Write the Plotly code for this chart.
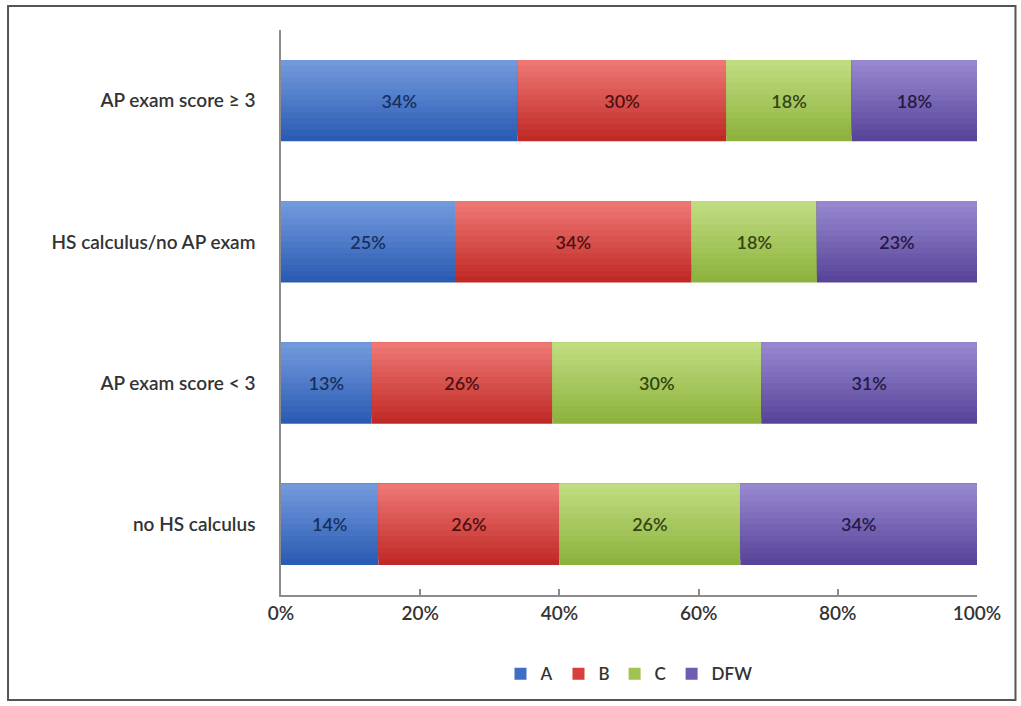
import numpy as np
import plotly.graph_objects as go

# Categories listed bottom-to-top as they appear on the axis
groups = ["no HS calculus", "AP exam score < 3", "HS calculus/no AP exam", "AP exam score \u2265 3"]
grades = ["A", "B", "C", "DFW"]
pct_A = [14, 13, 25, 34]
pct_B = [26, 26, 34, 30]
pct_C = [26, 30, 18, 18]
pct_DFW = [34, 31, 23, 18]
x_ticks = [0, 20, 40, 60, 80, 100]

series = [pct_A, pct_B, pct_C, pct_DFW]
# (top colour, bottom colour, label colour, legend colour)
styles = [
    ("#7299dc", "#2b5cb4", "#17305e", "#3f6fc4"),
    ("#ee7774", "#c02a26", "#4e1110", "#d8403c"),
    ("#c0dc80", "#8db33e", "#344412", "#9fc452"),
    ("#9787cf", "#58459a", "#221a45", "#6f5cb0"),
]

BAR_W = 0.575
N_BANDS = 14
FONT = "Lato, 'Open Sans', sans-serif"
TXT = "#333333"


def mix(c1, c2, t):
    a = np.array([int(c1[i:i + 2], 16) for i in (1, 3, 5)], dtype=float)
    b = np.array([int(c2[i:i + 2], 16) for i in (1, 3, 5)], dtype=float)
    r, g, bl = (a * (1 - t) + b * t).round().astype(int)
    return f"rgb({r},{g},{bl})"


fig = go.Figure()
starts = np.cumsum([[0] * len(groups)] + series[:-1], axis=0)

for name, vals, base, (top, bottom, label_col, leg_col) in zip(grades, series, starts, styles):
    # vertical shading: full bar in the darkest tone, then lighter layers
    # that cover progressively less of the bar from the top edge down
    for k in range(N_BANDS):
        w = BAR_W * (N_BANDS - k) / N_BANDS
        fig.add_trace(go.Bar(
            y=groups, x=vals, base=base, orientation="h",
            width=w, offset=BAR_W / 2 - w,
            marker=dict(color=mix(bottom, top, k / (N_BANDS - 1)), line=dict(width=0)),
            showlegend=False, hoverinfo="skip",
        ))
    # value labels on a transparent full-size bar
    fig.add_trace(go.Bar(
        y=groups, x=vals, base=base, orientation="h",
        width=BAR_W, offset=-BAR_W / 2,
        marker=dict(color="rgba(0,0,0,0)", line=dict(width=0)),
        text=[f"{v}%" for v in vals], textposition="inside", insidetextanchor="middle",
        textfont=dict(family=FONT, size=18, color=label_col, weight=600),
        showlegend=False, hoverinfo="skip",
    ))
    # legend entry
    fig.add_trace(go.Bar(
        y=[None], x=[None], orientation="h", name=name,
        marker=dict(color=leg_col, line=dict(width=0)),
    ))

# outer chart frame
fig.add_shape(type="rect", xref="paper", yref="paper",
              x0=-0.3922, x1=1.0553, y0=-0.1858, y1=1.0425,
              line=dict(color="#555555", width=2), fillcolor="rgba(0,0,0,0)", layer="below")

fig.update_layout(
    width=1021, height=706,
    margin=dict(l=281, r=44, t=30, b=111),
    paper_bgcolor="white", plot_bgcolor="white",
    barmode="overlay",
    font=dict(family=FONT, size=19, color=TXT),
    xaxis=dict(
        range=[0, 100], tickvals=x_ticks, ticktext=[f"{t}%" for t in x_ticks],
        showgrid=False, zeroline=False, showline=True, linecolor="#8c8c8c", linewidth=1.5,
        ticks="inside", ticklen=6, tickcolor="#8c8c8c", tickwidth=1.5,
        tickfont=dict(size=19, color=TXT, weight=600), fixedrange=True,
    ),
    yaxis=dict(
        range=[-0.5, 3.5], showgrid=False, zeroline=False, showline=True,
        linecolor="#8c8c8c", linewidth=1.5, ticks="", ticklabelstandoff=20,
        tickfont=dict(size=19, color=TXT, weight=600), fixedrange=True,
    ),
    legend=dict(
        orientation="h", x=0.5, xanchor="center", y=-0.14, yanchor="middle",
        font=dict(size=17, color=TXT, weight=600), traceorder="normal",
        itemwidth=30, bgcolor="rgba(0,0,0,0)",
    ),
    bargap=0.4,
)

fig.write_html("out.html")
